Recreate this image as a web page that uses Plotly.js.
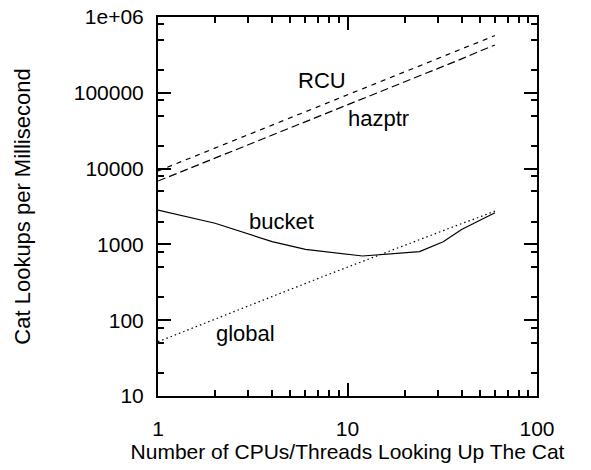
<!DOCTYPE html>
<html>
<head>
<meta charset="utf-8">
<script src="https://cdn.plot.ly/plotly-3.0.1.min.js"></script>
<style>html,body{margin:0;padding:0;background:#fff;}</style>
</head>
<body>
<div id="chart" style="width:591px;height:470px;"></div>
<script>
// CPU counts and measured lookup rates
const cpusLinear = [1, 2, 4, 8, 16, 24, 32, 40, 48, 56, 60];
const rcu        = [9300, 18600, 37500, 75000, 150000, 225000, 300000, 375000, 450000, 530000, 569000];
const hazptr     = [6850, 13700, 27500, 55000, 110000, 165000, 220000, 280000, 340000, 400000, 428000];
const globalLock = [52, 104, 205, 405, 790, 1160, 1520, 1880, 2220, 2560, 2750];

const cpusBucket = [1, 2, 4, 6, 12, 24, 32, 40, 60];
const bucket     = [2840, 1900, 1090, 862, 703, 802, 1086, 1570, 2620];

const xTickVals = [1, 10, 100];
const xTickText = ['1', '10', '100'];
const yTickVals = [10, 100, 1000, 10000, 100000, 1000000];
const yTickText = ['10', '100', '1000', '10000', '100000', '1e+06'];
const xMinorVals = [2,3,4,5,6,7,8,9,20,30,40,50,60,70,80,90];
const yMinorVals = [20,50,80,200,500,800,2000,5000,8000,20000,50000,80000,200000,500000,800000];

const FONT = 'Liberation Sans, Arial, Helvetica, sans-serif';

const traces = [
  {x: cpusLinear, y: rcu, name: 'RCU', mode: 'lines',
   line: {color: '#000', width: 1.2, dash: '5px,5px'}},
  {x: cpusLinear, y: hazptr, name: 'hazptr', mode: 'lines',
   line: {color: '#000', width: 1.2, dash: '8px,4px'}},
  {x: cpusBucket, y: bucket, name: 'bucket', mode: 'lines',
   line: {color: '#000', width: 1.2}},
  {x: cpusLinear, y: globalLock, name: 'global', mode: 'lines',
   line: {color: '#000', width: 1.2, dash: '1.5px,3px'}}
];

const labelFont = {family: FONT, size: 22, color: '#000'};
const layout = {
  width: 591, height: 470,
  paper_bgcolor: '#fff', plot_bgcolor: '#fff',
  showlegend: false,
  margin: {l: 158, r: 54, t: 17, b: 74},
  font: {family: FONT, size: 21, color: '#000'},
  xaxis: {
    type: 'log', range: [0, 2],
    showline: true, linecolor: '#000', linewidth: 2, mirror: 'allticks',
    ticks: 'inside', ticklen: 13, tickwidth: 2, tickcolor: '#000',
    tickmode: 'array', tickvals: xTickVals, ticktext: xTickText,
    ticklabelstandoff: 13,
    minor: {ticks: 'inside', ticklen: 6, tickwidth: 2, tickcolor: '#000',
            tickmode: 'array', tickvals: xMinorVals},
    showgrid: false, zeroline: false,
    tickfont: {family: FONT, size: 21, color: '#000'},
    title: {text: 'Number of CPUs/Threads Looking Up The Cat', standoff: 4,
            font: {family: FONT, size: 21, color: '#000'}}
  },
  yaxis: {
    type: 'log', range: [1, 6],
    showline: true, linecolor: '#000', linewidth: 2, mirror: 'allticks',
    ticks: 'inside', ticklen: 13, tickwidth: 2, tickcolor: '#000',
    tickmode: 'array', tickvals: yTickVals, ticktext: yTickText,
    ticklabelstandoff: 8,
    minor: {ticks: 'inside', ticklen: 6, tickwidth: 2, tickcolor: '#000',
            tickmode: 'array', tickvals: yMinorVals},
    showgrid: false, zeroline: false,
    tickfont: {family: FONT, size: 21, color: '#000'},
    title: {text: 'Cat Lookups per Millisecond', standoff: 37,
            font: {family: FONT, size: 22, color: '#000'}}
  },
  annotations: [
    {text: 'RCU', x: Math.log10(7.3), y: Math.log10(146000), xref: 'x', yref: 'y', showarrow: false, font: labelFont},
    {text: 'hazptr', x: Math.log10(14.5), y: Math.log10(45800), xref: 'x', yref: 'y', showarrow: false, font: labelFont},
    {text: 'bucket', x: Math.log10(4.5), y: Math.log10(1990), xref: 'x', yref: 'y', showarrow: false, font: labelFont},
    {text: 'global', x: Math.log10(2.9), y: Math.log10(67), xref: 'x', yref: 'y', showarrow: false, font: labelFont}
  ]
};

Plotly.newPlot('chart', traces, layout, {displayModeBar: false, staticPlot: true});
</script>
</body>
</html>
